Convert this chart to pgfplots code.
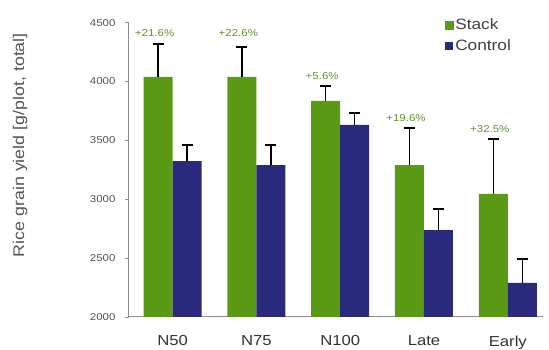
\documentclass[border=0pt]{standalone}
\usepackage{pgfplots}
\pgfplotsset{compat=1.18}
\usepackage{pgfplotstable}
\usepackage{fontspec}
\setmainfont[FakeStretch=1.15]{Liberation Sans}
\definecolor{stackgreen}{RGB}{90,154,20}
\definecolor{ctrlblue}{RGB}{42,42,124}
\definecolor{pctgreen}{RGB}{96,146,46}
\definecolor{axgray}{RGB}{140,140,140}
\definecolor{txtgray}{RGB}{85,85,85}
\pgfplotstableread{
x stack stackerr control controlerr
0 4040 280 3325 136
1 4040 254 3291 170
2 3835 127 3631 102
3 3291 314 2739 178
4 3045 467 2289 204
}\datatable
\begin{document}
\begin{tikzpicture}
\useasboundingbox (0,0) rectangle (549pt,350pt);
\begin{axis}[
  at={(129pt,33pt)}, anchor=south west,
  scale only axis, width=414pt, height=294.3pt,
  xmin=-0.52, xmax=4.42, ymin=2000, ymax=4500,
  enlargelimits=false, clip=false,
  axis x line=bottom, axis y line=left,
  axis line style={-, axgray, line width=1pt},
  ybar=0pt, bar width=29pt,
  xtick={0,1,2,3,4}, xticklabels={N50,N75,N100,Late,Early},
  x tick style={draw=none},
  xticklabel style={font=\fontsize{14.5}{16}\selectfont, text=black!80, yshift=-11pt},
  ytick={2000,2500,3000,3500,4000,4500},
  y tick style={axgray, line width=0.8pt},
  tick align=outside, major tick length=4pt,
  yticklabel style={font=\fontsize{10}{12}\selectfont, text=txtgray, xshift=-6pt},
  /pgf/number format/1000 sep={},
  /pgf/number format/assume math mode=true,
  ylabel={Rice grain yield [g/plot, total]},
  ylabel style={at={(axis description cs:-0.263,0.584)}, anchor=center, font=\fontsize{15.5}{17}\selectfont, text=txtgray},
  legend style={at={(0.755,1.025)}, anchor=north west, draw=none, fill=none,
    font=\fontsize{15}{17}\selectfont, text=black!75, row sep=5pt,
    nodes={inner sep=1.5pt}},
  legend cell align=left,
  error bars/y dir=plus, error bars/y explicit,
  error bars/error bar style={black, line width=1.4pt},
  error bars/error mark options={rotate=90, mark size=5.5pt, line width=1.4pt, black},
]
\addplot[fill=stackgreen, draw=none,
  legend image code/.code={\fill[stackgreen] (0pt,-4.5pt) rectangle (9pt,4.5pt);}]
  table[x=x, y=stack, y error=stackerr] {\datatable};
\addlegendentry{Stack}
\addplot[fill=ctrlblue, draw=none,
  legend image code/.code={\fill[ctrlblue] (0pt,-4pt) rectangle (8pt,4pt);}]
  table[x=x, y=control, y error=controlerr] {\datatable};
\addlegendentry{Control}
\begin{scope}[every node/.style={font=\fontsize{10}{12}\selectfont, text=pctgreen, xshift=-18pt}]
\node at (axis cs:0,4412) {+21.6\%};
\node at (axis cs:1,4412) {+22.6\%};
\node at (axis cs:2,4047) {+5.6\%};
\node at (axis cs:3,3690) {+19.6\%};
\node at (axis cs:4,3597) {+32.5\%};
\end{scope}
\end{axis}
\end{tikzpicture}
\end{document}
